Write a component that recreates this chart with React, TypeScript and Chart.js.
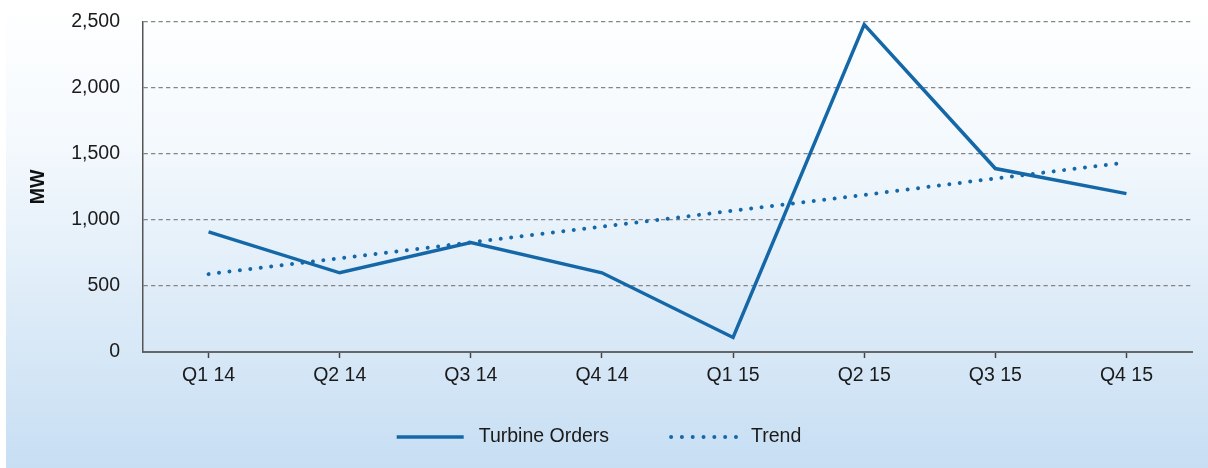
import React, { useEffect, useRef } from "react";
import { Chart, registerables } from "chart.js";

Chart.register(...registerables);

const categories = ["Q1 14", "Q2 14", "Q3 14", "Q4 14", "Q1 15", "Q2 15", "Q3 15", "Q4 15"];
const turbineOrders = [910, 600, 830, 600, 110, 2480, 1390, 1200];
const trend = [590, 710, 830, 950, 1070, 1190, 1315, 1435];
const yTicks = [0, 500, 1000, 1500, 2000, 2500];

const LINE_COLOR = "#1568a8";
const FONT = "'Liberation Sans', Arial, sans-serif";
const FS = 19.5;

const bgPlugin = {
  id: "panelBg",
  beforeDraw(chart: any) {
    const { ctx, width, height } = chart;
    ctx.save();
    const g = ctx.createLinearGradient(0, 0, 0, height);
    g.addColorStop(0, "#ffffff");
    g.addColorStop(0.3, "#f4f9fd");
    g.addColorStop(1, "#c7def3");
    ctx.fillStyle = g;
    ctx.fillRect(6, 0, width - 6, height);
    ctx.restore();
  },
};

// Legend drawn below the x axis, centred on the panel
const legendPlugin = {
  id: "lineLegend",
  afterDraw(chart: any) {
    const { ctx, chartArea } = chart;
    const sample = 67;
    const gap = 15;
    const itemGap = 60;
    const y = chartArea.bottom + 85;
    ctx.save();
    ctx.font = `${FS}px ${FONT}`;
    const items = chart.data.datasets.map((ds: any) => ({
      ds,
      w: sample + gap + ctx.measureText(ds.label).width,
    }));
    const total = items.reduce((a: number, it: any) => a + it.w, 0) + itemGap * (items.length - 1);
    let x = (6 + chartArea.right) / 2 - total / 2;
    items.forEach((it: any) => {
      const ds = it.ds;
      ctx.strokeStyle = ds.borderColor;
      ctx.lineWidth = ds.borderWidth;
      ctx.lineCap = ds.borderCapStyle || "butt";
      ctx.setLineDash(ds.borderDash ? [0.01, 10.8] : []);
      ctx.beginPath();
      if (ds.borderDash) {
        ctx.moveTo(x + 2, y);
        ctx.lineTo(x + sample, y);
      } else {
        ctx.moveTo(x, y);
        ctx.lineTo(x + sample, y);
      }
      ctx.stroke();
      ctx.setLineDash([]);
      ctx.fillStyle = "#1a1a1a";
      ctx.textAlign = "left";
      ctx.textBaseline = "middle";
      ctx.fillText(ds.label, x + sample + gap, y);
      x += it.w + itemGap;
    });
    ctx.restore();
  },
};

export default function App() {
  const ref = useRef<HTMLCanvasElement | null>(null);

  useEffect(() => {
    document.body.style.margin = "0";
    if (!ref.current) return;
    const chart = new Chart(ref.current, {
      type: "line",
      data: {
        labels: categories,
        datasets: [
          {
            label: "Turbine Orders",
            data: turbineOrders,
            borderColor: LINE_COLOR,
            backgroundColor: LINE_COLOR,
            borderWidth: 3.5,
            pointRadius: 0,
            tension: 0,
            borderCapStyle: "butt",
          },
          {
            label: "Trend",
            data: trend,
            borderColor: LINE_COLOR,
            backgroundColor: LINE_COLOR,
            borderWidth: 4,
            borderDash: [0.01, 10.5],
            borderCapStyle: "round",
            pointRadius: 0,
            tension: 0,
          },
        ],
      },
      options: {
        responsive: false,
        animation: false,
        layout: { padding: { top: 22, right: 16, bottom: 49, left: 6 } },
        plugins: {
          tooltip: { enabled: false },
          legend: { display: false },
        },
        scales: {
          x: {
            offset: true,
            grid: {
              display: true,
              drawOnChartArea: false,
              drawTicks: true,
              tickLength: 6,
              tickColor: "#444",
              tickWidth: 1.5,
            },
            border: { display: true, color: "#666", width: 2 },
            ticks: {
              padding: 6,
              color: "#1a1a1a",
              font: { family: FONT, size: FS },
              maxRotation: 0,
            },
            afterFit: (s: any) => {
              s.height = 67;
            },
          },
          y: {
            min: 0,
            max: 2500,
            afterBuildTicks: (s: any) => {
              s.ticks = yTicks.map((v) => ({ value: v }));
            },
            grid: {
              display: true,
              drawTicks: true,
              tickLength: 23,
              tickColor: "rgba(0,0,0,0)",
              color: (ctx: any) => (ctx.tick && ctx.tick.value === 0 ? "rgba(0,0,0,0)" : "#858585"),
              lineWidth: 1.2,
            },
            border: { display: true, color: "#555", width: 1.5, dash: [4.3, 3.2] },
            ticks: {
              padding: 0,
              color: "#1a1a1a",
              font: { family: FONT, size: FS },
              callback: (v: any) => Number(v).toLocaleString("en-US"),
            },
            title: {
              display: true,
              text: "MW",
              color: "#111",
              font: { family: FONT, size: FS, weight: "bold" },
              padding: { top: 21.3, bottom: 4 },
            },
            afterFit: (s: any) => {
              s.width = 143 - 6;
            },
          },
        },
      },
      plugins: [bgPlugin, legendPlugin],
    } as any);
    return () => chart.destroy();
  }, []);

  return (
    <div style={{ position: "fixed", left: 0, top: 0, width: 1208, height: 468 }}>
      <canvas ref={ref} width={1208} height={468} />
    </div>
  );
}
